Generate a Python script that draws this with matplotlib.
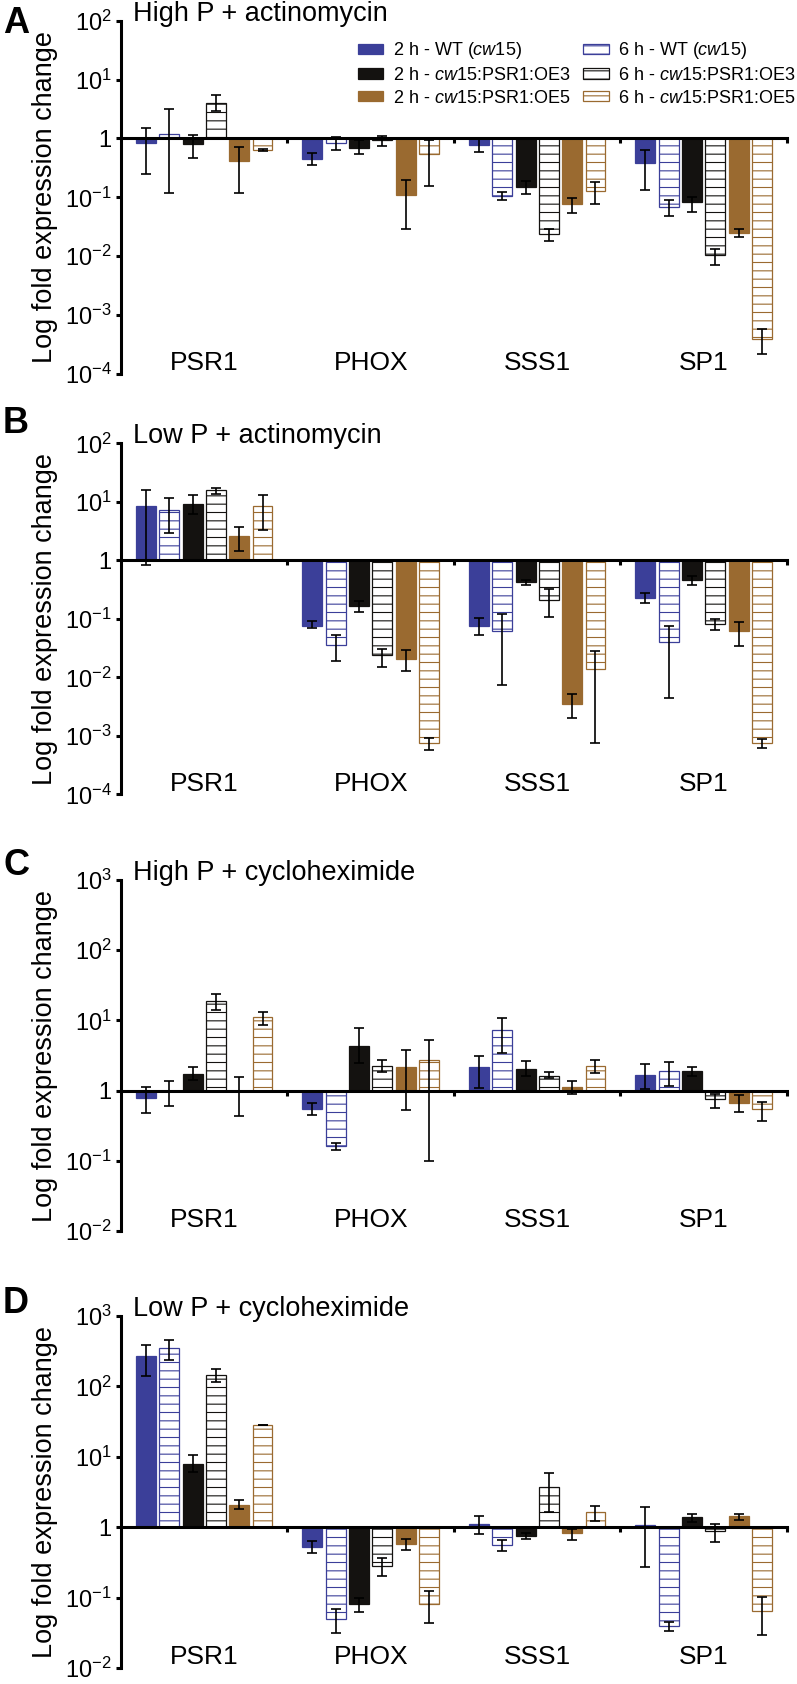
import numpy as np
import matplotlib
matplotlib.use('Agg')
import matplotlib.pyplot as plt
from matplotlib.patches import Patch
from matplotlib.ticker import FixedLocator, NullLocator, FuncFormatter

genes = ['PSR1', 'PHOX', 'SSS1', 'SP1']
series = ['2 h - WT ($\\mathit{cw15}$)', '6 h - WT ($\\mathit{cw15}$)',
          '2 h - $\\mathit{cw15}$:PSR1:OE3', '6 h - $\\mathit{cw15}$:PSR1:OE3',
          '2 h - $\\mathit{cw15}$:PSR1:OE5', '6 h - $\\mathit{cw15}$:PSR1:OE5']
colors = ['#3b3f99', '#3b3f99', '#141210', '#141210', '#9a6a30', '#9a6a30']
hatched = [False, True, False, True, False, True]

titles = ['High P + actinomycin', 'Low P + actinomycin',
          'High P + cycloheximide', 'Low P + cycloheximide']
letters = ['A', 'B', 'C', 'D']

# rows = series (WT 2h, WT 6h, OE3 2h, OE3 6h, OE5 2h, OE5 6h), cols = genes
a_vals = [[0.83, 0.44, 0.79, 0.38], [1.18, 0.83, 0.105, 0.068], [0.81, 0.69, 0.15, 0.082],
          [4.0, 0.93, 0.0236, 0.0104], [0.41, 0.108, 0.076, 0.025], [0.64, 0.55, 0.129, 3.9e-4]]
a_lo = [[0.25, 0.35, 0.59, 0.136], [0.118, 0.63, 0.089, 0.049], [0.46, 0.54, 0.116, 0.057],
        [2.9, 0.74, 0.018, 0.0071], [0.12, 0.029, 0.055, 0.021], [0.61, 0.155, 0.077, 2.2e-4]]
a_hi = [[1.49, 0.56, 1.0, 0.64], [3.2, 1.05, 0.123, 0.089], [1.16, 0.95, 0.19, 0.10],
        [5.5, 1.1, 0.0295, 0.0135], [0.73, 0.195, 0.099, 0.0295], [0.67, 0.95, 0.18, 5.8e-4]]

b_vals = [[8.4, 0.077, 0.076, 0.23], [7.4, 0.0357, 0.062, 0.0396], [9.2, 0.166, 0.42, 0.47],
          [15.7, 0.0238, 0.213, 0.081], [2.6, 0.021, 0.0035, 0.062], [8.5, 7.6e-4, 0.0139, 7.6e-4]]
b_lo = [[0.84, 0.069, 0.052, 0.189], [2.93, 0.019, 0.0075, 0.0045], [6.3, 0.133, 0.38, 0.38],
        [13.4, 0.015, 0.107, 0.064], [1.46, 0.013, 0.0020, 0.034], [3.35, 5.8e-4, 7.6e-4, 6.3e-4]]
b_hi = [[15.7, 0.092, 0.103, 0.277], [11.6, 0.0537, 0.119, 0.075], [13.3, 0.20, 0.47, 0.55],
        [17.5, 0.031, 0.32, 0.098], [3.67, 0.029, 0.0051, 0.09], [13.3, 9.3e-4, 0.0278, 8.7e-4]]

c_vals = [[0.79, 0.54, 2.15, 1.68], [0.98, 0.161, 7.3, 1.92], [1.74, 4.36, 2.03, 1.92],
          [19.0, 2.27, 1.64, 0.75], [1.0, 2.17, 1.14, 0.67], [11.2, 2.7, 2.27, 0.54]]
c_lo = [[0.48, 0.45, 1.1, 1.05], [0.60, 0.144, 3.45, 1.18], [1.4, 2.5, 1.6, 1.6],
        [13.9, 1.84, 1.5, 0.56], [0.44, 0.53, 0.885, 0.49], [8.7, 0.1, 1.78, 0.37]]
c_hi = [[1.12, 0.66, 3.16, 2.4], [1.39, 0.178, 11.0, 2.56], [2.15, 7.7, 2.65, 2.19],
        [23.7, 2.7, 1.84, 0.9], [1.56, 3.78, 1.38, 0.87], [13.2, 5.3, 2.77, 0.68]]

d_vals = [[274, 0.53, 1.12, 1.08], [349, 0.049, 0.55, 0.039], [8.0, 0.080, 0.74, 1.39],
          [145, 0.283, 3.73, 0.87], [2.08, 0.58, 0.82, 1.42], [28.3, 0.082, 1.62, 0.064]]
d_lo = [[142, 0.425, 0.79, 0.27], [238, 0.031, 0.46, 0.034], [6.0, 0.062, 0.67, 1.2],
        [117, 0.2, 1.67, 0.62], [1.81, 0.47, 0.66, 1.27], [28.0, 0.0435, 1.23, 0.029]]
d_hi = [[390, 0.645, 1.45, 1.91], [450, 0.068, 0.66, 0.045], [10.7, 0.10, 0.82, 1.55],
        [177, 0.37, 5.8, 1.12], [2.4, 0.67, 0.95, 1.55], [28.7, 0.123, 1.97, 0.102]]

panels = [(a_vals, a_lo, a_hi, (-4, 2)), (b_vals, b_lo, b_hi, (-4, 2)),
          (c_vals, c_lo, c_hi, (-2, 3)), (d_vals, d_lo, d_hi, (-2, 3))]

plt.rcParams.update({
    'font.family': ['Liberation Sans', 'DejaVu Sans'],
    'mathtext.fontset': 'custom',
    'mathtext.rm': 'Liberation Sans',
    'mathtext.it': 'Liberation Sans:italic',
    'hatch.linewidth': 0.8,
})

fig = plt.figure(figsize=(7.97, 16.84), dpi=100)
boxes = [[0.1518, 0.7779, 0.8356, 0.2098],
         [0.1518, 0.5283, 0.8356, 0.2084],
         [0.1518, 0.2690, 0.8356, 0.2084],
         [0.1518, 0.0095, 0.8356, 0.2090]]
letter_y = [0.965, 1.029, 1.014, 1.009]

width = 0.12
step = 0.14
x = np.arange(len(genes))

for p, (vals, lo, hi, (emin, emax)) in enumerate(panels):
    ax = fig.add_axes(boxes[p])
    ax.set_yscale('log')
    for k in range(6):
        v = np.array(vals[k], dtype=float)
        l = np.array(lo[k], dtype=float)
        h = np.array(hi[k], dtype=float)
        xs = x + (k - 2.5) * step
        if hatched[k]:
            ax.bar(xs, v - 1, bottom=1, width=width, facecolor='white',
                   edgecolor=colors[k], hatch='--', linewidth=0.9, zorder=1)
        else:
            ax.bar(xs, v - 1, bottom=1, width=width, color=colors[k],
                   edgecolor=colors[k], linewidth=0.9, zorder=1)
        ax.errorbar(xs, v, yerr=[np.abs(v - l), np.abs(h - v)], fmt='none',
                    ecolor='black', elinewidth=1.2, capsize=3.6, capthick=1.2, zorder=3)

    ax.set_xlim(-0.5, len(genes) - 0.5)
    ax.set_ylim(10.0 ** emin, 10.0 ** emax)
    ax.yaxis.set_major_locator(FixedLocator([10.0 ** e for e in range(emin, emax + 1)]))
    ax.yaxis.set_minor_locator(NullLocator())
    ax.yaxis.set_major_formatter(FuncFormatter(
        lambda val, pos: '1' if abs(np.log10(val)) < 1e-9
        else r'$\mathregular{10^{%d}}$' % round(np.log10(val))))
    ax.tick_params(axis='y', direction='out', length=3.6, width=2.2, pad=3, labelsize=17)

    for s in ['top', 'right']:
        ax.spines[s].set_visible(False)
    ax.spines['left'].set_linewidth(2.2)
    ax.spines['bottom'].set_position(('data', 1))
    ax.spines['bottom'].set_linewidth(2.2)
    ax.spines['bottom'].set_zorder(4)
    ax.set_xticks(x + 0.5)
    ax.set_xticklabels([])
    ax.tick_params(axis='x', direction='out', length=3.6, width=2.2)

    for i, g in enumerate(genes):
        ax.text(i, 0.01, g, transform=ax.get_xaxis_transform(), ha='center',
                va='baseline', fontsize=19)

    ax.text(-0.114, 0.5, 'Log fold expression change', transform=ax.transAxes,
            rotation=90, ha='center', va='center', fontsize=19.5)
    ax.text(0.018, 1.0, titles[p], transform=ax.transAxes, ha='left',
            va='baseline', fontsize=19.5)
    ax.text(-0.177, letter_y[p], letters[p], transform=ax.transAxes, ha='left',
            va='baseline', fontsize=26, fontweight='bold')

    if p == 0:
        order = [0, 2, 4, 1, 3, 5]
        handles = []
        for k in order:
            if hatched[k]:
                handles.append(Patch(facecolor='white', edgecolor=colors[k],
                                     hatch='--', linewidth=0.9, label=series[k]))
            else:
                handles.append(Patch(facecolor=colors[k], edgecolor=colors[k],
                                     linewidth=0.9, label=series[k]))
        ax.legend(handles=handles, ncol=2, loc='upper left',
                  bbox_to_anchor=(0.356, 0.945), frameon=False, fontsize=13,
                  borderpad=0, borderaxespad=0, handlelength=1.4,
                  handleheight=0.5, handletextpad=0.55, columnspacing=0.7,
                  labelspacing=0.32)

fig.savefig('out.png', dpi=100)
